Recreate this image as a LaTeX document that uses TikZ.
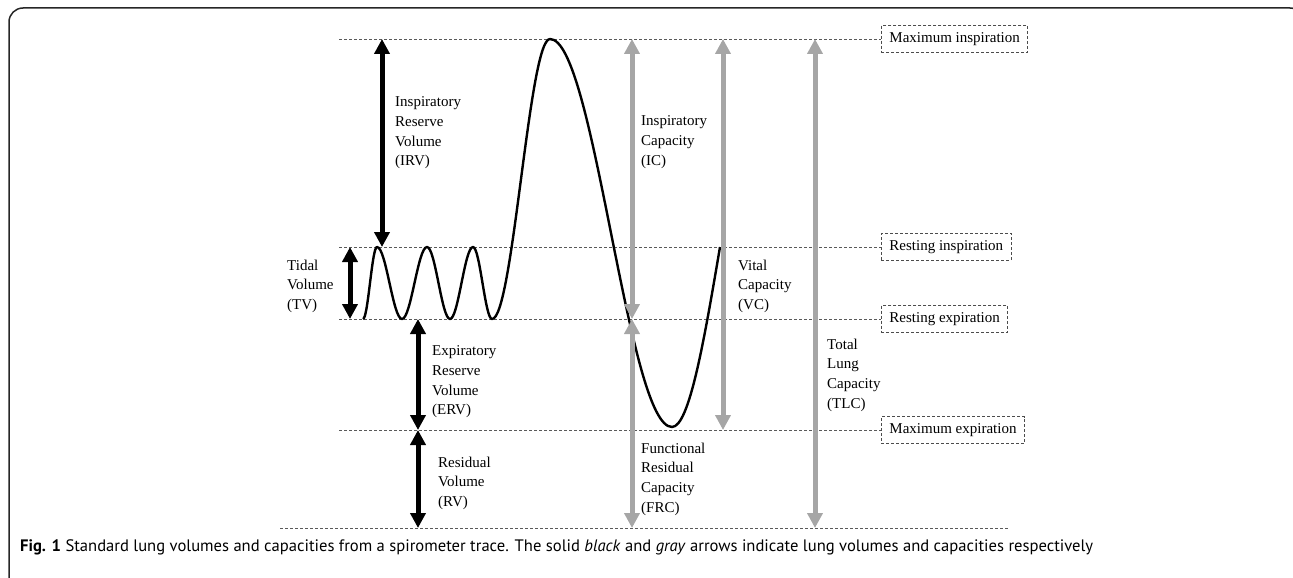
\documentclass[tikz,border=0pt]{standalone}
\usepackage{fontspec}
\setmainfont{Liberation Serif}
\newfontfamily\capfont{PT Sans}
\usetikzlibrary{arrows.meta}

\definecolor{capgray}{HTML}{A6A6A6}

\tikzset{
  levelline/.style={draw=black!65, line width=0.9pt, dash pattern=on 3pt off 2pt},
  levelbox/.style={draw=black!70, line width=0.9pt, dash pattern=on 3pt off 2pt,
    anchor=west, minimum height=27pt, inner xsep=8pt, inner ysep=0pt,
    font=\fontsize{15}{18}\selectfont},
  volarrow/.style={line width=5pt, color=black,
    {Triangle[width=15pt,length=15pt]}-{Triangle[width=15pt,length=15pt]}},
  caparrow/.style={volarrow, color=capgray},
  trace/.style={line width=2.4pt, line join=round},
  vlabel/.style={anchor=north west, align=left, inner sep=0pt,
    font=\fontsize{15}{19.7}\selectfont},
}

\begin{document}
\begin{tikzpicture}[x=1pt, y=-1pt]
\path[use as bounding box, clip] (0,0) rectangle (1293,578);
\draw[line width=1.5pt, black!85, rounded corners=14pt] (9,8) rectangle (1304,592);

\node[levelbox] (maxin)  at (881,39)  {Maximum inspiration};
\node[levelbox] (restin) at (881,247) {Resting inspiration};
\node[levelbox] (restex) at (881,319) {Resting expiration};
\node[levelbox] (maxex)  at (881,430) {Maximum expiration};
\coordinate (left) at (339,0);
\coordinate (base-l) at (280,528);
\coordinate (base-r) at (1009,528);

\foreach \lev in {maxin,restin,restex,maxex}
  \draw[levelline] (left |- \lev) -- (\lev.west);
\draw[levelline] (base-l) -- (base-r);

\coordinate (tv)  at (350,0);
\coordinate (irv) at (382,0);
\coordinate (erv) at (418,0);
\coordinate (ic)  at (632,0);
\coordinate (vc)  at (723,0);
\coordinate (tlc) at (815,0);

\draw[trace] (363,319) cos (370,283) sin (377,247)
  cos (389.5,283) sin (402,319)
  cos (414.5,283) sin (427,247)
  cos (438.5,283) sin (450,319)
  cos (461.5,283) sin (473,247)
  cos (482.5,283) sin (492,319)
  cos (521,179) sin (550,39)
  cos (611,233) sin (672,427)
  cos (720,247);

\draw[volarrow] (irv |- maxin) -- (irv |- restin);
\draw[volarrow] (tv |- restin) -- (tv |- restex);
\draw[volarrow] (erv |- restex) -- (erv |- maxex);
\draw[volarrow] (erv |- maxex) -- (erv |- base-l);

\draw[caparrow] (ic |- maxin) -- (ic |- restex);
\draw[caparrow] (ic |- restex) -- (ic |- base-l);
\draw[caparrow] (vc |- maxin) -- (vc |- maxex);
\draw[caparrow] (tlc |- maxin) -- (tlc |- base-l);

\node[vlabel] (irv-txt) at (395,96.5)  {Inspiratory\\Reserve\\Volume\\(IRV)};
\node[vlabel] (tv-txt)  at (287,259.5) {Tidal\\Volume\\(TV)};
\node[vlabel] (erv-txt) at (432,345.5) {Expiratory\\Reserve\\Volume\\(ERV)};
\node[vlabel] (rv-txt)  at (438,456.5) {Residual\\Volume\\(RV)};
\node[vlabel] (ic-txt)  at (641,115.5) {Inspiratory\\Capacity\\(IC)};
\node[vlabel] (vc-txt)  at (738,259.5) {Vital\\Capacity\\(VC)};
\node[vlabel] (tlc-txt) at (827,338.5) {Total\\Lung\\Capacity\\(TLC)};
\node[vlabel] (frc-txt) at (641,442.5) {Functional\\Residual\\Capacity\\(FRC)};

\node[anchor=west, inner sep=0pt, font=\capfont\fontsize{16.6}{19}\selectfont] (caption) at (20,547.5)
  {\textbf{Fig. 1} Standard lung volumes and capacities from a spirometer trace. The solid \textit{black} and \textit{gray} arrows indicate lung volumes and capacities respectively};
\end{tikzpicture}
\end{document}
